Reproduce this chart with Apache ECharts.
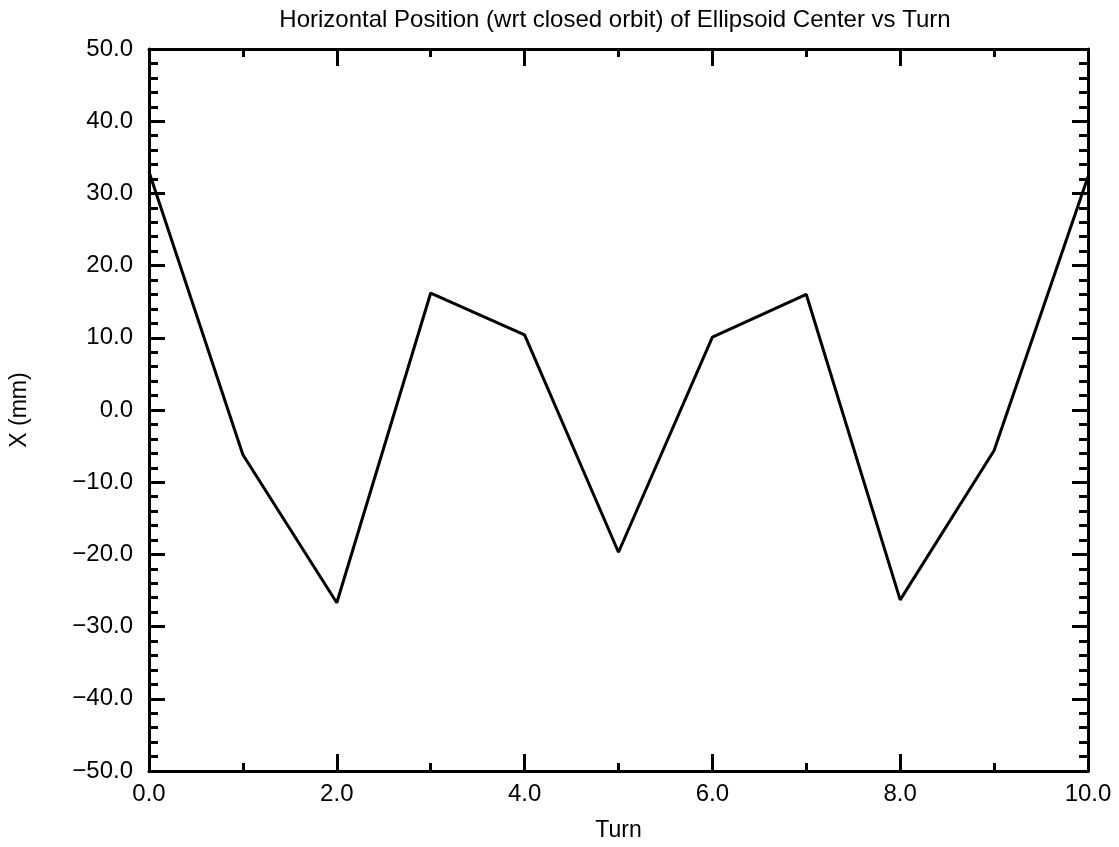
<!DOCTYPE html>
<html>
<head>
<meta charset="utf-8">
<script src="https://cdn.jsdelivr.net/npm/echarts@6/dist/echarts.min.js"></script>
<style>
html,body{margin:0;padding:0;background:#fff;}
#chart{width:1119px;height:847px;}
</style>
</head>
<body>
<div id="chart"></div>
<script>
const turns = [0, 1, 2, 3, 4, 5, 6, 7, 8, 9, 10];
const xPos = [33.0, -6.2, -26.7, 16.2, 10.4, -19.7, 10.1, 16.0, -26.3, -5.6, 32.3];
const titleText = 'Horizontal Position (wrt closed orbit) of Ellipsoid Center vs Turn';
const xName = 'Turn';
const yName = 'X (mm)';

const FONT = '"Liberation Sans", Arial, sans-serif';
const fmt = v => (v < 0 ? '\u2212' + Math.abs(v).toFixed(1) : v.toFixed(1));

const chart = echarts.init(document.getElementById('chart'), null, {renderer: 'canvas'});
const axisLine = {show: true, onZero: false, lineStyle: {color: '#000', width: 3}};
const tick = (len) => ({show: true, inside: true, length: len, lineStyle: {color: '#000', width: 3}});
const minor = (n, len) => ({show: true, splitNumber: n, length: len, lineStyle: {color: '#000', width: 3}});

chart.setOption({
  animation: false,
  backgroundColor: '#fff',
  title: {
    text: titleText, left: 610, top: 3, textAlign: 'center',
    textStyle: {fontFamily: FONT, fontSize: 24, fontWeight: 'normal', color: '#000'}
  },
  grid: {left: 147, right: 31, top: 49, bottom: 74, containLabel: false},
  xAxis: [{
    type: 'value', min: 0, max: 10, interval: 2, position: 'bottom',
    name: xName, nameLocation: 'middle', nameGap: 48,
    nameTextStyle: {fontFamily: FONT, fontSize: 23, color: '#000'},
    axisLine: axisLine, axisTick: tick(17), minorTick: minor(2, 8),
    splitLine: {show: false},
    axisLabel: {formatter: fmt, margin: 11, fontFamily: FONT, fontSize: 24, color: '#000'}
  }, {
    type: 'value', min: 0, max: 10, interval: 2, position: 'top',
    axisLine: axisLine, axisTick: tick(17), minorTick: minor(2, 8),
    splitLine: {show: false}, axisLabel: {show: false}
  }],
  yAxis: [{
    type: 'value', min: -50, max: 50, interval: 10, position: 'left',
    name: yName, nameLocation: 'middle', nameGap: 118, nameRotate: 90,
    nameTextStyle: {fontFamily: FONT, fontSize: 23, color: '#000'},
    axisLine: axisLine, axisTick: tick(16), minorTick: minor(5, 9),
    splitLine: {show: false},
    axisLabel: {formatter: fmt, margin: 16, fontFamily: FONT, fontSize: 24, color: '#000'}
  }, {
    type: 'value', min: -50, max: 50, interval: 10, position: 'right',
    axisLine: axisLine, axisTick: tick(16), minorTick: minor(5, 9),
    splitLine: {show: false}, axisLabel: {show: false}
  }],
  series: [{
    type: 'line',
    data: turns.map((t, i) => [t, xPos[i]]),
    showSymbol: false, symbol: 'none',
    lineStyle: {color: '#000', width: 3},
    clip: false
  }]
});
</script>
</body>
</html>
